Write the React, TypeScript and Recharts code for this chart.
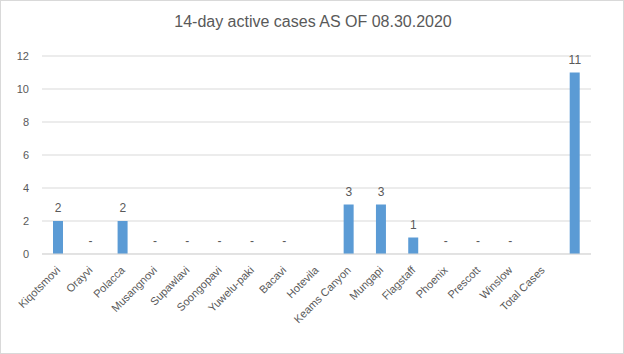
import React from "react";
import { ComposedChart, Bar, Line, XAxis, YAxis, CartesianGrid, LabelList } from "recharts";

const categories = [
  "Kiqotsmovi", "Orayvi", "Polacca", "Musangnovi", "Supawlavi", "Soongopavi",
  "Yuwelu-paki", "Bacavi", "Hotevila", "Keams Canyon", "Mungapi", "Flagstaff",
  "Phoenix", "Prescott", "Winslow", "Total Cases", "",
];
const activeCases: (number | null)[] = [2, 0, 2, 0, 0, 0, 0, 0, null, 3, 3, 1, 0, 0, 0, null, 11];
const yTicks = [0, 2, 4, 6, 8, 10, 12];
const title = "14-day active cases AS OF 08.30.2020";

const data = categories.map((name, i) => ({ name, value: activeCases[i] }));

const FONT = "'Liberation Sans', Arial, sans-serif";
const TEXT = "#595959";

const XTick = (props: any) => {
  const { x, y, payload } = props;
  return (
    <g transform={`translate(${x},${y + 6})`}>
      <text
        x={0}
        y={0}
        dy={4}
        textAnchor="end"
        transform="rotate(-45)"
        fontSize={11}
        fontFamily={FONT}
        fill={TEXT}
      >
        {payload.value}
      </text>
    </g>
  );
};

const ValueLabel = (props: any) => {
  const { x, y, value } = props;
  if (value === null || value === undefined) return null;
  return (
    <text
      x={x}
      y={y - 9}
      textAnchor="middle"
      fontSize={12}
      fontFamily={FONT}
      fill={TEXT}
    >
      {value === 0 ? "-" : value}
    </text>
  );
};

export default function App() {
  return (
    <div
      style={{
        position: "absolute",
        left: 0,
        top: 0,
        width: 624,
        height: 354,
        background: "#fff",
        boxSizing: "border-box",
        border: "1px solid #d9d9d9",
      }}
    >
      <div
        style={{
          position: "absolute",
          left: 0,
          top: 12,
          width: 624,
          textAlign: "center",
          fontFamily: FONT,
          fontSize: 16,
          color: TEXT,
        }}
      >
        {title}
      </div>
      <div style={{ position: "absolute", left: -1, top: -1 }}>
        <ComposedChart
          width={624}
          height={354}
          data={data}
          margin={{ top: 56, right: 33, bottom: 0, left: 8 }}
          barCategoryGap={0}
        >
          <CartesianGrid vertical={false} stroke="#d9d9d9" />
          <XAxis
            dataKey="name"
            interval={0}
            tickLine={false}
            axisLine={{ stroke: "#d9d9d9" }}
            tick={<XTick />}
            height={100}
          />
          <YAxis
            domain={[0, 12]}
            ticks={yTicks}
            width={34}
            tickLine={false}
            axisLine={false}
            tick={{ fontSize: 11, fontFamily: FONT, fill: TEXT, dx: -5 }}
          />
          <Bar dataKey="value" fill="#5b9bd5" barSize={10} isAnimationActive={false} />
          <Line
            dataKey="value"
            stroke="none"
            dot={false}
            activeDot={false}
            connectNulls={false}
            isAnimationActive={false}
          >
            <LabelList dataKey="value" content={<ValueLabel />} />
          </Line>
        </ComposedChart>
      </div>
    </div>
  );
}
